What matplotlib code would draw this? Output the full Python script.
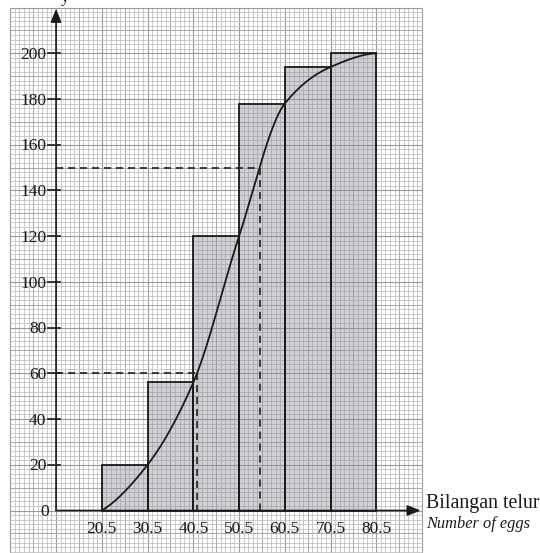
import numpy as np
import matplotlib
matplotlib.use("Agg")
import matplotlib.pyplot as plt
from matplotlib.patches import Rectangle

# ---------------- data ----------------
boundaries = [20.5, 30.5, 40.5, 50.5, 60.5, 70.5, 80.5]
cum_freq = [0, 20, 56, 120, 178, 194, 200]
x_tick_labels = ["20.5", "30.5", "40.5", "50.5", "60.5", "70.5", "80.5"]
y_ticks = [20, 40, 60, 80, 100, 120, 140, 160, 180, 200]
y_tick_labels = ["20", "40", "60", "80", "100", "120", "140", "160", "180", "200"]
read_levels = [60, 150]
x_label = "Bilangan telur"
x_label_en = "Number of eggs"
y_label_fragment = "y"

SERIF = ["Liberation Serif", "DejaVu Serif"]

# ---------------- figure ----------------
W, H = 540, 553
fig = plt.figure(figsize=(W / 100, H / 100), dpi=100)
ax = fig.add_axes([0, 0, 1, 1])
sx = 4.575      # px per x unit
sy = 2.286      # px per y unit
x_px0 = 101.8   # pixel of x = 20.5
y_px0 = 510.5   # pixel (from top) of y = 0
xl = 20.5 - x_px0 / sx
yl = -(H - y_px0) / sy
ax.set_xlim(xl, xl + W / sx)
ax.set_ylim(yl, yl + H / sy)
ax.axis("off")

# ---------------- graph paper ----------------
gx0, gx1 = 0.5, 90.5
gy0, gy1 = -20, 220
for xv in np.arange(gx0, gx1 + 0.01, 1.0):
    k = int(round(xv - 0.5))
    if k % 10 == 0:
        c, lw = "#999999", 0.8
    elif k % 5 == 0:
        c, lw = "#a8a8a8", 0.7
    else:
        c, lw = "#c2c2c2", 0.6
    ax.plot([xv, xv], [gy0, gy1], color=c, lw=lw, zorder=1, solid_capstyle="butt")
for yv in np.arange(gy0, gy1 + 0.01, 2.0):
    k = int(round(yv))
    if k % 20 == 0:
        c, lw = "#999999", 0.8
    elif k % 10 == 0:
        c, lw = "#a8a8a8", 0.7
    else:
        c, lw = "#c2c2c2", 0.6
    ax.plot([gx0, gx1], [yv, yv], color=c, lw=lw, zorder=1, solid_capstyle="butt")

# ---------------- bars ----------------
for i in range(1, len(boundaries)):
    left = boundaries[i - 1]
    width = boundaries[i] - boundaries[i - 1]
    ax.add_patch(Rectangle((left, 0), width, cum_freq[i], facecolor="#8a8a96",
                           alpha=0.40, edgecolor="none", zorder=2))
    ax.add_patch(Rectangle((left, 0), width, cum_freq[i], facecolor="none",
                           edgecolor="#1a1a1a", lw=1.3, zorder=3))

# ---------------- ogive (monotone cubic through the points) ----------------
def pchip(xk, yk, xs):
    xk = np.asarray(xk, float)
    yk = np.asarray(yk, float)
    h = np.diff(xk)
    d = np.diff(yk) / h
    n = len(xk)
    m = np.zeros(n)
    for k in range(1, n - 1):
        if d[k - 1] * d[k] > 0:
            w1 = 2 * h[k] + h[k - 1]
            w2 = h[k] + 2 * h[k - 1]
            m[k] = (w1 + w2) / (w1 / d[k - 1] + w2 / d[k])
    def end(h0, h1, d0, d1):
        s = ((2 * h0 + h1) * d0 - h0 * d1) / (h0 + h1)
        if np.sign(s) != np.sign(d0):
            s = 0.0
        elif np.sign(d0) != np.sign(d1) and abs(s) > abs(3 * d0):
            s = 3 * d0
        return s
    m[0] = end(h[0], h[1], d[0], d[1])
    m[-1] = end(h[-1], h[-2], d[-1], d[-2])
    idx = np.clip(np.searchsorted(xk, xs) - 1, 0, n - 2)
    t = (xs - xk[idx]) / h[idx]
    h00 = 2 * t**3 - 3 * t**2 + 1
    h10 = t**3 - 2 * t**2 + t
    h01 = -2 * t**3 + 3 * t**2
    h11 = t**3 - t**2
    return (h00 * yk[idx] + h10 * h[idx] * m[idx] + h01 * yk[idx + 1]
            + h11 * h[idx] * m[idx + 1])

xs = np.linspace(boundaries[0], boundaries[-1], 600)
ys = pchip(boundaries, cum_freq, xs)
ax.plot(xs, ys, color="#1a1a1a", lw=1.3, zorder=5)

# ---------------- reading lines ----------------
for lvl in read_levels:
    xr = float(np.interp(lvl, ys, xs))
    ax.plot([10.5, xr], [lvl, lvl], color="#1a1a1a", lw=1.15, ls=(0, (4.5, 3)), zorder=6)
    ax.plot([xr, xr], [lvl, 0], color="#1a1a1a", lw=1.15, ls=(0, (4.5, 3)), zorder=6)

# ---------------- axes ----------------
arrow = dict(arrowstyle="-|>,head_length=0.4,head_width=0.16", color="#1a1a1a",
             lw=1.2, shrinkA=0, shrinkB=0, mutation_scale=20)
ax.annotate("", xy=(90.2, 0), xytext=(10.5, 0), arrowprops=arrow, zorder=7)
ax.annotate("", xy=(10.5, 219.5), xytext=(10.5, 0), arrowprops=arrow, zorder=7)

# y ticks
for yv, lab in zip(y_ticks, y_tick_labels):
    ax.plot([10.5 - 8 / sx, 10.5 + 4 / sx], [yv, yv], color="#1a1a1a", lw=1.2, zorder=7)
    ax.text(8.4, yv - 2.5, lab, ha="right", va="baseline", fontsize=12.5,
            family=SERIF, color="#1a1a1a")
ax.text(8.9, -2.5, "0", ha="right", va="baseline", fontsize=12.5,
        family=SERIF, color="#1a1a1a")

# x tick labels
for xv, lab in zip(boundaries, x_tick_labels):
    ax.text(xv, -10.0, lab, ha="center", va="baseline", fontsize=12.5,
            family=SERIF, color="#1a1a1a")

# axis titles
ax.text(91.4, 1.0, x_label, ha="left", va="baseline", fontsize=14.3,
        family=SERIF, color="#1a1a1a")
ax.text(91.4, -7.6, x_label_en, ha="left", va="baseline", fontsize=11.8,
        family=SERIF, style="italic", color="#1a1a1a")
# fragment of the cut-off vertical-axis title visible at the top edge
ax.text(13.3, 222.6, y_label_fragment, ha="right", va="baseline", fontsize=12,
        family=SERIF, color="#1a1a1a", clip_on=True)

fig.savefig("out.png", dpi=100)
